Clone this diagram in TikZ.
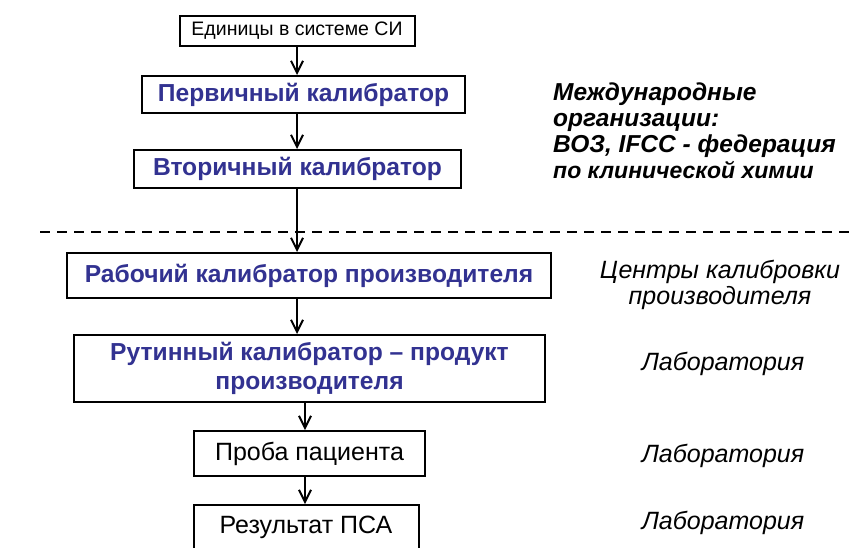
\documentclass[tikz,border=0pt]{standalone}
\usepackage{fontspec}
\setmainfont{Liberation Sans}
\usetikzlibrary{arrows.meta}
\definecolor{calblue}{RGB}{50,50,145}
\tikzset{
  box/.style={draw, line width=2pt, inner sep=0pt, align=center, fill=white},
  conn/.style={line width=2pt, -{Straight Barb[length=12pt,width=12pt,line width=2pt]}},
  bluetext/.style={text=calblue, font=\fontsize{24.6}{29}\selectfont\bfseries},
  plaintext/.style={font=\fontsize{25}{29}\selectfont},
  sidenote/.style={font=\fontsize{25}{26}\selectfont\itshape, align=center},
  divider/.style={line width=2pt, dash pattern=on 10pt off 7pt}
}
\begin{document}
\begin{tikzpicture}[x=1pt,y=-1pt]
\useasboundingbox (0,0) rectangle (850,547);
\fill[white] (0,0) rectangle (850,547);

\draw[divider] (40,232) -- (850,232);

\node[box, minimum width=235pt, minimum height=30pt, font=\fontsize{19.5}{22}\selectfont] (b1) at (297,31) {Единицы в системе СИ};
\node[box, bluetext, minimum width=323pt, minimum height=37pt] (b2) at (303.5,94.5) {Первичный калибратор};
\node[box, bluetext, minimum width=327pt, minimum height=38pt] (b3) at (297.5,169) {Вторичный калибратор};
\node[box, bluetext, minimum width=484pt, minimum height=45pt] (b4) at (309,275.5) {Рабочий калибратор производителя};
\node[box, bluetext, minimum width=471pt, minimum height=67pt] (b5) at (309.5,368.5) {Рутинный калибратор – продукт\\производителя};
\node[box, plaintext, minimum width=231pt, minimum height=45pt] (b6) at (309.5,453.5) {Проба пациента};
\node[box, plaintext, minimum width=225pt, minimum height=45pt] (b7) at (306,527.5) {Результат ПСА};

\draw[conn] (b1.south -| 297,0) -- (b2.north -| 297,0);
\draw[conn] (b2.south -| 297,0) -- (b3.north -| 297,0);
\draw[conn] (b3.south -| 297,0) -- (b4.north -| 297,0);
\draw[conn] (b4.south -| 297,0) -- (b5.north -| 297,0);
\draw[conn] (b5.south -| 305,0) -- (b6.north -| 305,0);
\draw[conn] (b6.south -| 305,0) -- (b7.north -| 305,0);

\node[anchor=north west, align=left, inner sep=0pt, font=\fontsize{24.5}{26}\selectfont\bfseries\itshape] (org) at (553,83)
  {Международные\\организации:\\ВОЗ, IFCC - федерация\\{\fontsize{23}{24}\selectfont по клинической химии}};
\node[sidenote] (n4) at (720,285) {Центры калибровки\\производителя};
\node[sidenote] (n5) at (723,364) {Лаборатория};
\node[sidenote] (n6) at (723,456) {Лаборатория};
\node[sidenote] (n7) at (723,523) {Лаборатория};
\end{tikzpicture}
\end{document}
